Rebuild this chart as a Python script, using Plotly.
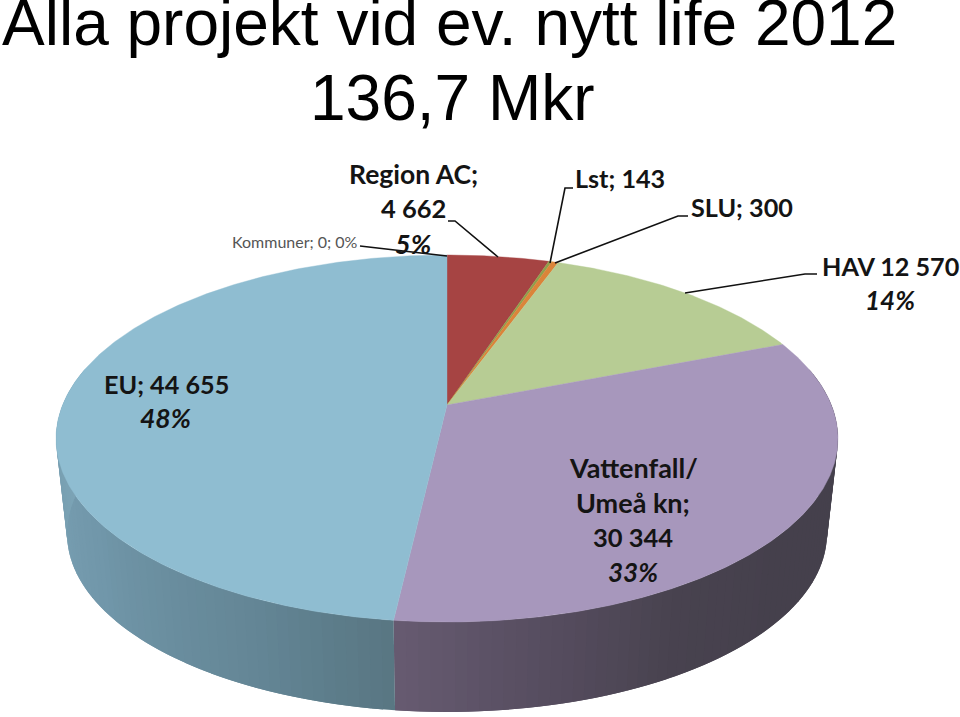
import math
import numpy as np
import plotly.graph_objects as go

# ---- data -------------------------------------------------------------
categories = ["Kommuner", "Region AC", "Lst", "SLU", "HAV", "Vattenfall/Umeå kn", "EU"]
values = [0, 4662, 143, 300, 12570, 30344, 44655]
slice_colors = ["#8FBDD1", "#A64443", "#8FA04C", "#DB8439", "#B7CC94", "#A797BC", "#8FBDD1"]

title_lines = ["Alla projekt vid ev. nytt life 2012", "136,7 Mkr"]

# ---- projection of the tilted pie (pixel space of the page) -----------
CX, CY = 447.0, 405.0
A, B, K = 384.4, 177.4, 0.1826
WALL_SCALE, WALL_DY = 0.972, 96.0


def top_pt(theta_deg, scale=1.0, dy=0.0):
    t = np.radians(theta_deg)
    u, v = np.sin(t), np.cos(t)
    d = 1 + K * v
    return CX + scale * A * u / d, CY - scale * B * v / d + dy


def lerp_color(stops, th):
    ths = [s[0] for s in stops]
    rgb = [np.interp(th, ths, [s[1][i] for s in stops]) for i in range(3)]
    return "rgb(%d,%d,%d)" % tuple(int(round(c)) for c in rgb)


wall_stops = {
    "Vattenfall/Umeå kn": [(75, (69, 64, 76)), (130, (69, 64, 76)), (150, (72, 66, 79)),
                           (175, (92, 82, 102)), (186.6, (103, 91, 113))],
    "EU": [(186.4, (88, 118, 130)), (205, (100, 134, 150)), (235, (113, 151, 170)), (285, (128, 168, 186))],
}

fig = go.Figure()
total = sum(values)
cum = np.cumsum([0] + values) / total * 360.0
VIS_FROM, VIS_TO = 78.0, 282.0

# side wall: overlapping strips so no seams show between them
for i, name in enumerate(categories):
    if name not in wall_stops:
        continue
    a0, a1 = max(cum[i], VIS_FROM), min(cum[i + 1], VIS_TO)
    n = max(2, int((a1 - a0) / 1.5))
    edges = np.linspace(a0, a1, n + 1)
    for e0, e1 in zip(edges[:-1], edges[1:]):
        th = np.linspace(e0, min(e1 + 1.5, a1), 6)
        xt, yt = top_pt(th)
        xb, yb = top_pt(th[::-1], WALL_SCALE, WALL_DY)
        c = lerp_color(wall_stops[name], (e0 + e1) / 2)
        fig.add_trace(go.Scatter(x=list(xt) + list(xb), y=list(yt) + list(yb), mode="lines",
                                 fill="toself", fillcolor=c, line=dict(color=c, width=0),
                                 hoverinfo="skip", showlegend=False))

# top face
for i, name in enumerate(categories):
    if values[i] == 0:
        continue
    th = np.arange(cum[i], cum[i + 1], 0.5)
    th = np.append(th, cum[i + 1])
    xs, ys = top_pt(th)
    fig.add_trace(go.Scatter(x=[CX] + list(xs) + [CX], y=[CY] + list(ys) + [CY], mode="lines",
                             fill="toself", fillcolor=slice_colors[i],
                             line=dict(color=slice_colors[i], width=0.4),
                             name=name, hoverinfo="skip", showlegend=False))

# leader lines
leaders = [
    ([360, 447], [246, 256]),
    ([448, 455, 498], [221, 221, 257]),
    ([573, 565, 550], [188, 188, 263]),
    ([688, 678, 555], [216, 216, 263]),
    ([817, 805, 685], [274, 274, 293]),
]
for lx, ly in leaders:
    fig.add_trace(go.Scatter(x=lx, y=ly, mode="lines", line=dict(color="#111111", width=1.6),
                             hoverinfo="skip", showlegend=False))

LF = "Lato"
labels = [
    ("Region AC;", 413, 174, False, 26.5), ("4 662", 413, 208, False, 25.5), ("5%", 413, 243, True, 27),
    ("Lst; 143", 620, 178, False, 25.2), ("SLU; 300", 742, 207, False, 25.2),
    ("HAV 12 570", 890, 266, False, 25.2), ("14%", 890, 300, True, 26),
    ("EU; 44 655", 166, 384, False, 25.2), ("48%", 165, 418, True, 26.5),
    ("Vattenfall/", 633, 467, False, 27), ("Umeå kn;", 633, 502, False, 27),
    ("30 344", 633, 537, False, 25.5), ("33%", 633, 572, True, 26),
]
ann = []
for txt, x, y, ital, size in labels:
    t = "<b>%s</b>" % txt
    if ital:
        t = "<i>%s</i>" % t
    ann.append(dict(x=x, y=y, text=t, showarrow=False, xanchor="center", yanchor="middle",
                    font=dict(family=LF, size=size, color="#141414")))
ann.append(dict(x=294.5, y=241, text="Kommuner; 0; 0%", showarrow=False, xanchor="center", yanchor="middle",
                font=dict(family=LF, size=16, color="#555555")))
ann.append(dict(x=449, y=23, text=title_lines[0], showarrow=False, xanchor="center", yanchor="middle",
                font=dict(family="Liberation Sans", size=64, color="#000000")))
ann.append(dict(x=452, y=98, text=title_lines[1], showarrow=False, xanchor="center", yanchor="middle",
                font=dict(family="Liberation Sans", size=64, color="#000000")))

fig.update_layout(
    width=960, height=717, margin=dict(l=0, r=0, t=0, b=0),
    paper_bgcolor="white", plot_bgcolor="white", hovermode=False,
    xaxis=dict(range=[0, 960], visible=False, fixedrange=True),
    yaxis=dict(range=[717, 0], visible=False, fixedrange=True),
    annotations=ann,
)
fig.write_html("out.html", config=dict(displayModeBar=False),
               post_script="document.body.style.margin='0';document.documentElement.style.overflow='hidden';")
